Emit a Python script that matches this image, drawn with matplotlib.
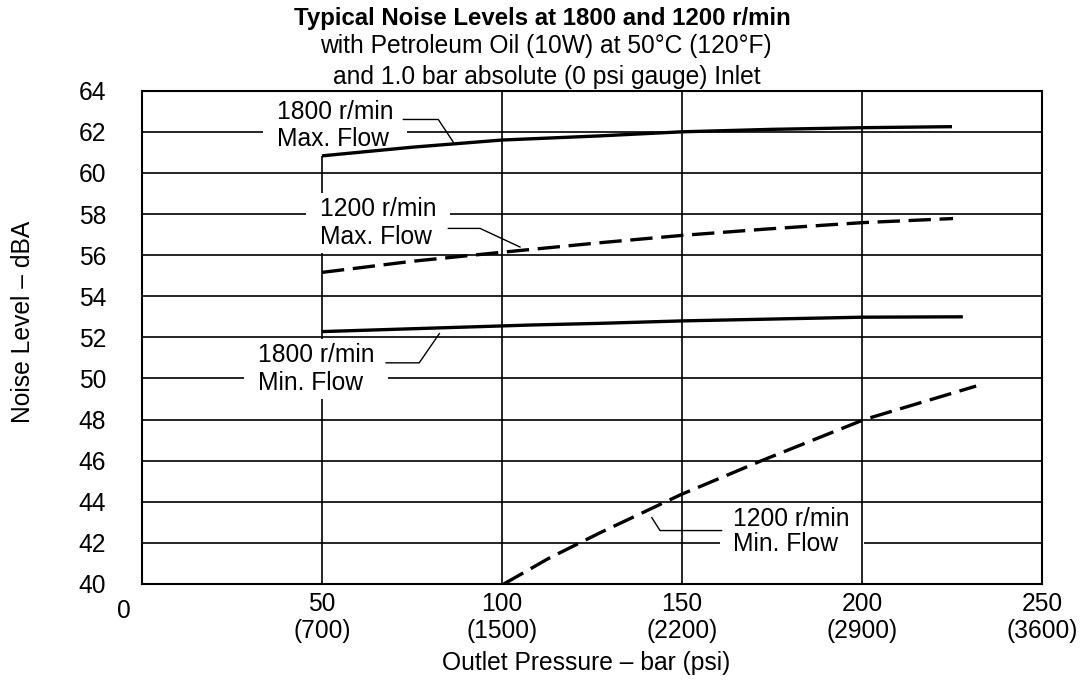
import numpy as np
import matplotlib
matplotlib.use("Agg")
import matplotlib.pyplot as plt

plt.rcParams['font.family'] = ['Liberation Sans', 'DejaVu Sans']

# outlet pressure (bar) and noise level (dBA)
p_1800_max = [50, 75, 100, 127, 150, 175, 200, 225]
n_1800_max = [60.83, 61.25, 61.6, 61.8, 62.0, 62.12, 62.2, 62.25]

p_1200_max = [50, 75, 100, 127, 150, 173.5, 200, 225.3]
n_1200_max = [55.16, 55.7, 56.14, 56.6, 56.96, 57.27, 57.58, 57.78]

p_1800_min = [50, 108, 127, 150, 200, 228]
n_1800_min = [52.28, 52.6, 52.68, 52.8, 52.98, 53.0]

p_1200_min = [100.5, 113, 127.2, 149.7, 172.1, 200.6, 231.7]
n_1200_min = [40.0, 41.25, 42.49, 44.35, 46.0, 48.0, 49.63]

x_ticks = [50, 100, 150, 200, 250]
x_labels = ["50\n(700)", "100\n(1500)", "150\n(2200)", "200\n(2900)", "250\n(3600)"]
y_ticks = list(range(40, 65, 2))

FS = 17.7

fig = plt.figure(figsize=(10.91, 6.82), dpi=100)
ax = fig.add_axes([0.13016, 0.1437, 0.82493, 0.72331])
ax.set_xlim(0, 250)
ax.set_ylim(40, 64)

# grid
for y in y_ticks[1:-1]:
    ax.axhline(y, color='black', lw=1.2, zorder=1)
for x in [100, 150, 200]:
    ax.axvline(x, color='black', lw=1.2, zorder=2.5)
ax.vlines(50, 40, n_1800_max[0], color='black', lw=1.2, zorder=1)

# curves
ax.plot(p_1800_max, n_1800_max, color='black', lw=2.4, zorder=3, solid_capstyle='butt')
ax.plot(p_1200_max, n_1200_max, color='black', lw=2.4, zorder=3, dashes=(6.7, 2.6))
ax.plot(p_1800_min, n_1800_min, color='black', lw=2.4, zorder=3, solid_capstyle='butt')
ax.plot(p_1200_min, n_1200_min, color='black', lw=2.4, zorder=3, dashes=(6.7, 2.6))

# curve labels (y = baseline of the lower line)
box = dict(facecolor='white', edgecolor='none', pad=10, mutation_aspect=0.3)
lbl = dict(fontsize=FS, ha='left', va='baseline', zorder=2, bbox=box,
           multialignment='left')
ax.text(37.5, 61.29, "1800 r/min\nMax. Flow", linespacing=1.18, **lbl)
ax.text(49.4, 56.55, "1200 r/min\nMax. Flow", linespacing=1.18, **lbl)
ax.text(32.2, 49.45, "1800 r/min\nMin. Flow", linespacing=1.18, **lbl)
ax.text(164.3, 41.6, "1200 r/min\nMin. Flow", linespacing=1.04, **lbl)

# leader lines from the labels to the curves
def leader(x0, x1, x2, y0, curve_p, curve_n, off):
    y2 = np.interp(x2, curve_p, curve_n) + off
    ax.plot([x0, x1, x2], [y0, y0, y2], color='black', lw=1.0, zorder=2)

leader(72.6, 82.3, 86.5, 62.6, p_1800_max, n_1800_max, 0.08)
leader(85.1, 93.9, 105.0, 57.3, p_1200_max, n_1200_max, 0.17)
leader(67.8, 77.0, 82.6, 50.76, p_1800_min, n_1800_min, -0.28)
leader(161.0, 143.9, 141.6, 42.6, p_1200_min, n_1200_min, -0.45)

ax.set_xticks(x_ticks)
ax.set_xticklabels(x_labels, fontsize=FS, linespacing=1.18)
ax.set_yticks(y_ticks)
ax.set_yticklabels([str(v) for v in y_ticks], fontsize=FS)
ax.tick_params(length=0)
ax.tick_params(axis='x', pad=5.5)
ax.tick_params(axis='y', pad=26)
for s in ax.spines.values():
    s.set_linewidth(1.5)

W, H = 1091, 682
fig.text(124 / W, 1 - 618 / H, "0", fontsize=FS, ha='center', va='baseline')
fig.text(586 / W, 1 - 670 / H, "Outlet Pressure – bar (psi)", fontsize=FS,
         ha='center', va='baseline')
fig.text(23 / W, 1 - 322 / H, "Noise Level – dBA", fontsize=FS,
         ha='center', va='center', rotation=90)

fig.text(542 / W, 1 - 25 / H, "Typical Noise Levels at 1800 and 1200 r/min",
         fontsize=17.3, fontweight='bold', ha='center', va='baseline')
fig.text(546 / W, 1 - 53 / H, "with Petroleum Oil (10W) at 50°C (120°F)",
         fontsize=FS, ha='center', va='baseline')
fig.text(547 / W, 1 - 84 / H, "and 1.0 bar absolute (0 psi gauge) Inlet",
         fontsize=FS, ha='center', va='baseline')

fig.savefig("out.png", dpi=100)
